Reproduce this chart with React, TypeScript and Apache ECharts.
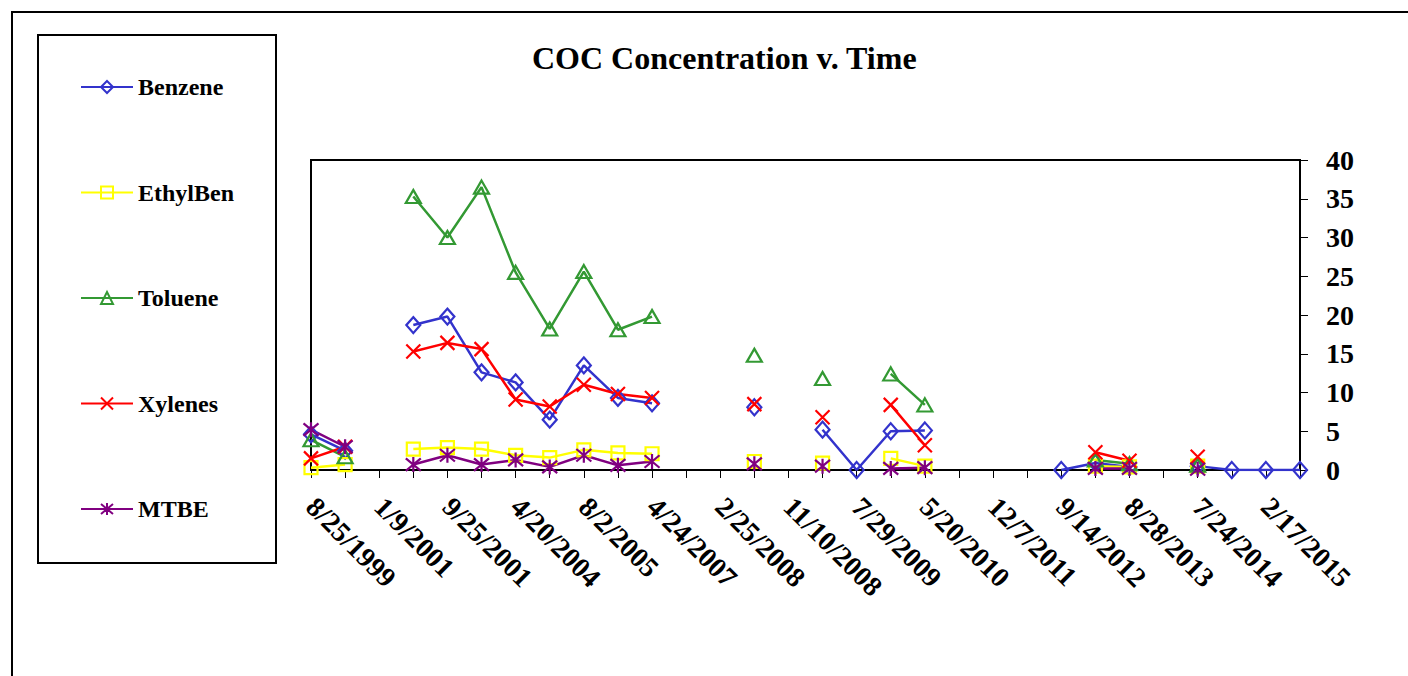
import React, { useEffect, useRef } from "react";
import * as echarts from "echarts";

const FONT = '"Liberation Serif", "Times New Roman", serif';

// Sampling dates; every other date is labelled on the axis
const dates: string[] = [
  "8/25/1999", "", "1/9/2001", "", "9/25/2001", "", "4/20/2004", "",
  "8/2/2005", "", "4/24/2007", "", "2/25/2008", "", "11/10/2008", "",
  "7/29/2009", "", "5/20/2010", "", "12/7/2011", "", "9/14/2012", "",
  "8/28/2013", "", "7/24/2014", "", "2/17/2015", "",
];

const yTicks = { min: 0, max: 40, step: 5 };

const benzene: (number | null)[] = [
  4.6, 2.5, null, 18.7, 19.8, 12.6, 11.3, 6.5, 13.5, 9.3, 8.6, null, null, 8.1, null,
  5.2, 0, 5.0, 5.1, null, null, null, 0, 0.9, 0.4, null, 0.5, 0, 0, 0,
];
const ethylBen: (number | null)[] = [
  0.3, 0.7, null, 2.7, 2.9, 2.7, 1.9, 1.6, 2.6, 2.2, 2.1, null, null, 1.1, null,
  0.9, null, 1.5, 0.5, null, null, null, null, 0.5, 0.4, null, 0.5, null, null, null,
];
const toluene: (number | null)[] = [
  3.9, 1.7, null, 35.3, 30.0, 36.5, 25.5, 18.2, 25.6, 18.1, 19.8, null, null, 14.8, null,
  11.8, null, 12.4, 8.4, null, null, null, null, 1.3, 0.8, null, 0.6, null, null, null,
];
const xylenes: (number | null)[] = [
  1.5, 3.0, null, 15.3, 16.4, 15.6, 9.1, 8.2, 11.0, 9.8, 9.3, null, null, 8.5, null,
  6.8, null, 8.4, 3.2, null, null, null, null, 2.3, 1.2, null, 1.7, null, null, null,
];
const mtbe: (number | null)[] = [
  5.2, 3.0, null, 0.7, 1.9, 0.7, 1.3, 0.4, 1.9, 0.6, 1.1, null, null, 0.8, null,
  0.5, null, 0.2, 0.3, null, null, null, null, 0.2, 0.2, null, 0.1, null, null, null,
];

const seriesDefs = [
  { name: "Benzene", data: benzene, color: "#3333CC", symbol: "diamond", size: [14, 16] },
  { name: "EthylBen", data: ethylBen, color: "#FFFF00", symbol: "rect", size: 13 },
  { name: "Toluene", data: toluene, color: "#339933", symbol: "triangle", size: [15, 13] },
  { name: "Xylenes", data: xylenes, color: "#FF0000", symbol: "path://M0,0L10,10M10,0L0,10", size: 14 },
  { name: "MTBE", data: mtbe, color: "#800080", symbol: "path://M0,0L10,10M10,0L0,10M5,-1L5,11", size: 15 },
];

export default function App() {
  const ref = useRef<HTMLDivElement>(null);

  useEffect(() => {
    if (!ref.current) return;
    const chart = echarts.init(ref.current, undefined, { renderer: "svg" });

    chart.setOption({
      animation: false,
      backgroundColor: "#fff",
      title: {
        text: "COC Concentration v. Time",
        left: 527,
        top: 37,
        textStyle: { fontFamily: FONT, fontWeight: "bold", fontSize: 32, color: "#000" },
      },
      legend: {
        orient: "vertical",
        left: 75,
        top: 70,
        itemWidth: 52,
        itemHeight: 15,
        itemGap: 81.5,
        textStyle: { fontFamily: FONT, fontWeight: "bold", fontSize: 24, color: "#000", lineHeight: 24 },
        data: seriesDefs.map((s) => s.name),
      },
      grid: {
        left: 311,
        right: 108,
        top: 160,
        bottom: 206,
        show: true,
        borderColor: "#000",
        borderWidth: 2,
        backgroundColor: "transparent",
        containLabel: false,
        outerBoundsMode: "none",
      },
      xAxis: {
        type: "category",
        data: dates,
        boundaryGap: false,
        axisLine: { show: true, lineStyle: { color: "#000", width: 2 } },
        axisTick: { show: true, interval: 0, length: 8, lineStyle: { color: "#000", width: 1 } },
        axisLabel: {
          interval: 0,
          rotate: -45,
          margin: 32,
          fontFamily: FONT,
          fontWeight: "bold",
          fontSize: 28,
          color: "#000",
        },
        splitLine: { show: false },
      },
      yAxis: {
        type: "value",
        position: "right",
        min: yTicks.min,
        max: yTicks.max,
        interval: yTicks.step,
        axisLine: { show: true, lineStyle: { color: "#000", width: 2 } },
        axisTick: { show: true, length: 8, lineStyle: { color: "#000", width: 1 } },
        axisLabel: {
          margin: 26,
          fontFamily: FONT,
          fontWeight: "bold",
          fontSize: 28,
          color: "#000",
        },
        splitLine: { show: false },
      },
      graphic: [
        {
          type: "rect",
          shape: { x: 12, y: 12, width: 1420, height: 700 },
          style: { fill: "none", stroke: "#000", lineWidth: 2 },
          silent: true,
        },
        {
          type: "rect",
          shape: { x: 38, y: 35, width: 238, height: 528 },
          style: { fill: "none", stroke: "#000", lineWidth: 2 },
          silent: true,
        },
      ],
      series: seriesDefs.map((s) => ({
        name: s.name,
        type: "line",
        data: s.data,
        connectNulls: false,
        showSymbol: true,
        showAllSymbol: true,
        symbol: s.symbol,
        symbolSize: s.size,
        lineStyle: { color: s.color, width: 2.5 },
        itemStyle: { color: "transparent", borderColor: s.color, borderWidth: 2.2 },
        emphasis: { disabled: true },
      })),
    });

    return () => chart.dispose();
  }, []);

  return (
    <div
      ref={ref}
      style={{ position: "absolute", left: 0, top: 0, width: 1408, height: 676 }}
    />
  );
}
